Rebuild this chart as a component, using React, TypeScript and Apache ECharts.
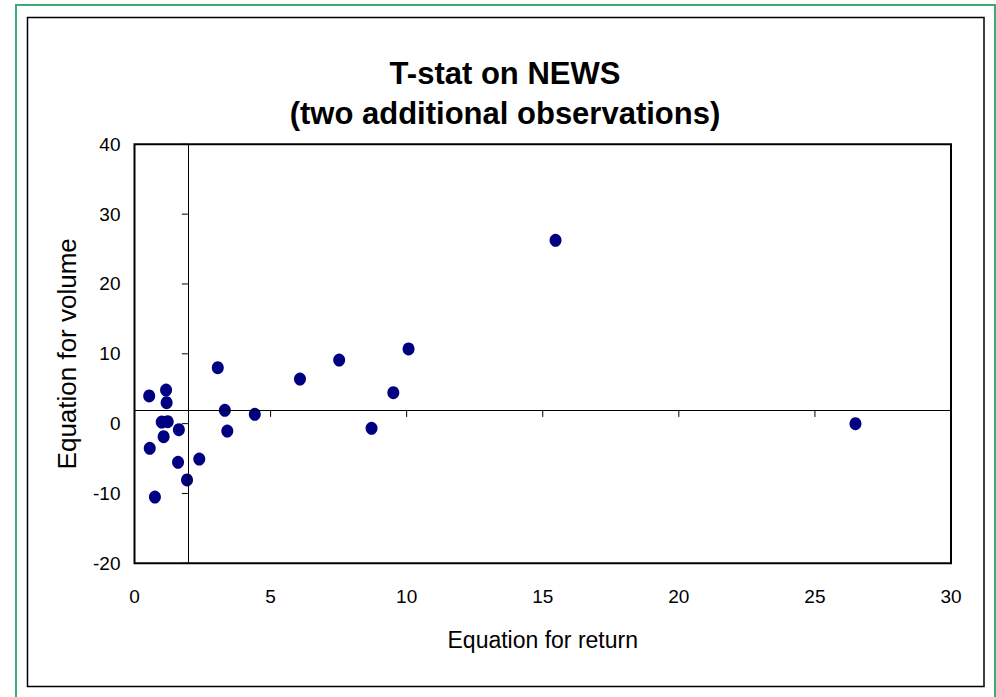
import React, { useEffect, useRef } from "react";
import * as echarts from "echarts";

const titleLines = ["T-stat on NEWS", "(two additional observations)"];
const xName = "Equation for return";
const yName = "Equation for volume";

const returnT = [
  0.54, 1.16, 1.18, 3.06, 6.08, 7.52, 10.07, 9.51, 3.32, 4.42, 8.71, 1.0,
  1.22, 1.63, 1.07, 3.41, 0.56, 1.6, 2.38, 1.93, 0.75, 15.47, 26.49,
];
const volumeT = [
  3.96, 4.81, 3.0, 8.01, 6.39, 9.11, 10.69, 4.43, 1.91, 1.33, -0.67, 0.23,
  0.28, -0.87, -1.87, -1.06, -3.53, -5.54, -5.07, -8.07, -10.51, 26.25, -0.01,
];

const xTicks = [0, 5, 10, 15, 20, 25, 30];
const yTicks = [-20, -10, 0, 10, 20, 30, 40];
const crossX = 1.96;
const crossY = 1.96;

export default function App() {
  const ref = useRef<HTMLDivElement>(null);
  useEffect(() => {
    if (!ref.current) return;
    const chart = echarts.init(ref.current, undefined, { renderer: "svg" });
    const font = "'Liberation Sans', Arial, sans-serif";
    const points = returnT.map((x, i) => [x, volumeT[i]]);
    chart.setOption({
      animation: false,
      backgroundColor: "#fff",
      title: {
        text: titleLines.join("\n"),
        left: 500,
        top: 48,
        textAlign: "center",
        textStyle: {
          fontFamily: font,
          fontWeight: "bold",
          fontSize: 31,
          lineHeight: 40,
          color: "#000",
        },
      },
      graphic: [
        {
          type: "rect",
          shape: { x: 16, y: 5, width: 979, height: 700 },
          style: { fill: "none", stroke: "#3dab74", lineWidth: 2 },
          silent: true,
        },
        {
          type: "rect",
          shape: { x: 27.5, y: 17.5, width: 956.5, height: 669 },
          style: { fill: "none", stroke: "#000", lineWidth: 1.5 },
          silent: true,
        },
      ],
      grid: {
        left: 134.5,
        top: 144.3,
        width: 816.5,
        height: 419,
        show: true,
        borderColor: "#000",
        borderWidth: 2,
        backgroundColor: "#fff",
      },
      xAxis: {
        type: "value",
        min: 0,
        max: 30,
        interval: 5,
        name: xName,
        nameLocation: "middle",
        nameGap: 65,
        nameTextStyle: { fontFamily: font, fontSize: 23, color: "#000" },
        axisLine: { show: false },
        axisTick: { show: false },
        splitLine: { show: false },
        axisLabel: { fontFamily: font, fontSize: 19, color: "#000", margin: 24 },
      },
      yAxis: {
        type: "value",
        min: -20,
        max: 40,
        interval: 10,
        name: yName,
        nameLocation: "middle",
        nameGap: 55,
        nameTextStyle: { fontFamily: font, fontSize: 26, color: "#000" },
        axisLine: { show: false },
        axisTick: { show: false },
        splitLine: { show: false },
        axisLabel: { fontFamily: font, fontSize: 19, color: "#000", margin: 14 },
      },
      series: [
        {
          type: "scatter",
          data: points,
          symbol: "circle",
          symbolSize: [12, 13],
          itemStyle: { color: "#000080", opacity: 1 },
          markLine: {
            silent: true,
            symbol: "none",
            label: { show: false },
            lineStyle: { color: "#000", width: 1, type: "solid" },
            data: [{ xAxis: crossX }, { yAxis: crossY }],
          },
          z: 3,
        },
        {
          type: "custom",
          silent: true,
          data: xTicks.map((v) => [v, crossY]),
          renderItem: (params: any, api: any) => {
            const p = api.coord([api.value(0), api.value(1)]);
            return {
              type: "line",
              shape: { x1: p[0], y1: p[1], x2: p[0], y2: p[1] + 7 },
              style: { stroke: "#000", lineWidth: 1 },
            };
          },
          z: 2,
        },
        {
          type: "custom",
          silent: true,
          data: yTicks.map((v) => [crossX, v]),
          renderItem: (params: any, api: any) => {
            const p = api.coord([api.value(0), api.value(1)]);
            return {
              type: "line",
              shape: { x1: p[0] - 6, y1: p[1], x2: p[0], y2: p[1] },
              style: { stroke: "#000", lineWidth: 1 },
            };
          },
          z: 2,
        },
      ],
    });
    return () => chart.dispose();
  }, []);
  return (
    <div
      ref={ref}
      style={{ position: "absolute", left: 0, top: 0, width: 996, height: 697 }}
    />
  );
}
